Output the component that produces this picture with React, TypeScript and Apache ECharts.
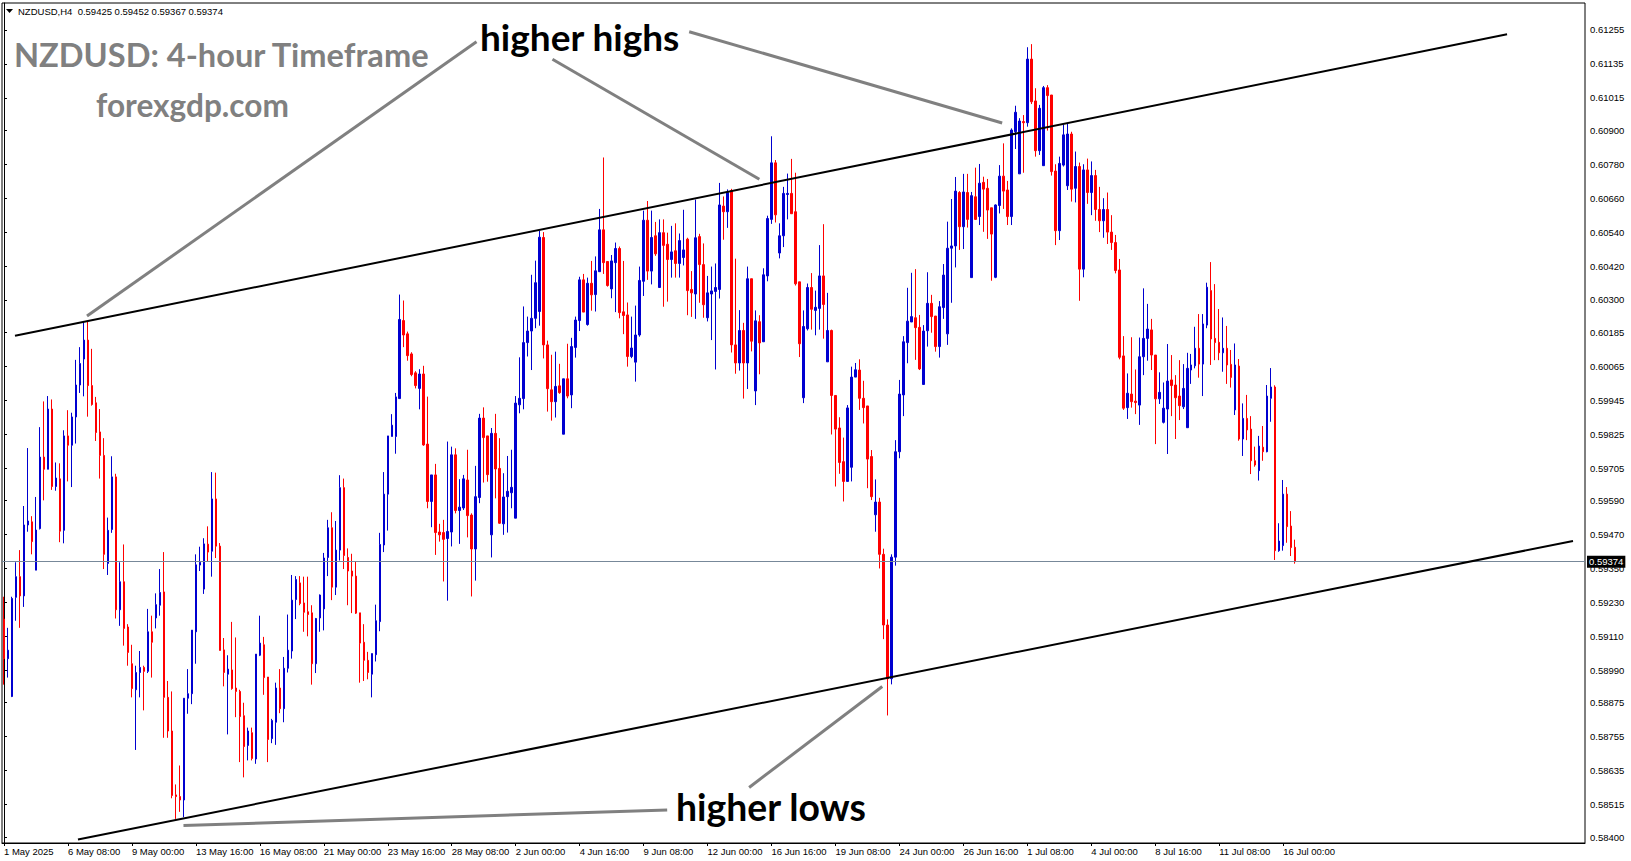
import React, { useEffect, useRef } from "react";
import * as echarts from "echarts";

// ---- DATA (NZDUSD H4 candles) ----
const opens = [
0.59171,0.59031,0.58897,0.59248,0.59321,0.59253,0.59504,0.59515,0.59344,0.59491,
0.59744,0.59701,0.59914,0.59640,0.59667,0.59485,0.59819,0.59786,0.59886,0.59999,
0.60091,0.60158,0.59997,0.59936,0.59833,0.59750,0.59368,0.59488,0.59674,0.59204,
0.59303,0.59143,0.59013,0.58921,0.58982,0.59000,0.58986,0.59126,0.59175,0.59220,
0.59267,0.58894,0.58775,0.58549,0.58543,0.58531,0.58891,0.58907,0.59126,0.59362,
0.59277,0.59436,0.59411,0.59596,0.59429,0.59062,0.58976,0.58991,0.58927,0.58915,
0.58829,0.58724,0.58769,0.58676,0.59043,0.59080,0.58966,0.58748,0.58806,0.58927,
0.58854,0.58997,0.59058,0.59240,0.59299,0.59228,0.59197,0.59193,0.59013,0.59175,
0.59207,0.59389,0.59494,0.59284,0.59415,0.59636,0.59389,0.59341,0.59323,0.59193,
0.59089,0.59025,0.58976,0.59045,0.59162,0.59433,0.59613,0.59817,0.59817,0.59951,
0.60227,0.60180,0.60109,0.60042,0.59987,0.60038,0.59790,0.59587,0.59681,0.59479,
0.59477,0.59456,0.59479,0.59752,0.59555,0.59564,0.59663,0.59539,0.59419,0.59601,
0.59882,0.59819,0.59469,0.59828,0.59704,0.59508,0.59604,0.59618,0.59528,0.59929,
0.59951,0.60149,0.60190,0.60235,0.60259,0.60521,0.60141,0.59982,0.59940,0.59996,
0.59825,0.60021,0.59964,0.60132,0.60227,0.60371,0.60213,0.60359,0.60319,0.60400,
0.60548,0.60436,0.60339,0.60432,0.60482,0.60258,0.60247,0.60100,0.60080,0.60176,
0.60366,0.60582,0.60402,0.60527,0.60344,0.60538,0.60497,0.60443,0.60474,0.60429,
0.60450,0.60515,0.60337,0.60321,0.60524,0.60425,0.60237,0.60321,0.60330,0.60337,
0.60632,0.60612,0.60687,0.60141,0.60077,0.60192,0.60077,0.60375,0.59978,0.60223,
0.60152,0.60385,0.60585,0.60785,0.60466,0.60527,0.60673,0.60677,0.60612,0.60364,
0.59954,0.60198,0.60344,0.60263,0.60270,0.60385,0.60081,0.60192,0.59962,0.59847,
0.59728,0.59658,0.59708,0.60027,0.60052,0.59952,0.59925,0.59746,0.59540,0.59585,
0.59400,0.59150,0.58960,0.59390,0.59763,0.59964,0.60149,0.60222,0.60237,0.60203,
0.60001,0.60191,0.60288,0.60243,0.60135,0.60273,0.60180,0.60483,0.60491,0.60680,
0.60559,0.60680,0.60379,0.60665,0.60595,0.60716,0.60695,0.60626,0.60380,0.60634,
0.60738,0.60689,0.60595,0.60895,0.60746,0.60931,0.60927,0.61152,0.61004,0.60828,
0.60775,0.61051,0.61025,0.60756,0.60545,0.60777,0.60704,0.60887,0.60695,0.60772,
0.60409,0.60760,0.60680,0.60740,0.60620,0.60580,0.60620,0.60540,0.60503,0.60406,
0.60102,0.59919,0.59967,0.59942,0.59928,0.60099,0.60164,0.60194,0.60105,0.59950,
0.59867,0.59914,0.60017,0.59999,0.59960,0.59922,0.59848,0.60052,0.60067,0.60129,
0.60073,0.60211,0.60333,0.60164,0.60150,0.60113,0.60129,0.60072,0.59911,0.60066,
0.59808,0.59881,0.59843,0.59731,0.59696,0.59779,0.59763,0.59952,0.59992,0.59413,
0.59431,0.59613,0.59500,0.59425
];
const highs = [
0.59250,0.59140,0.59250,0.59372,0.59415,0.59571,0.59776,0.59535,0.59603,0.59850,
0.59941,0.59960,0.59948,0.59725,0.59722,0.59839,0.59910,0.59901,0.60088,0.60133,
0.60225,0.60227,0.60127,0.59957,0.59914,0.59811,0.59530,0.59747,0.59685,0.59372,
0.59435,0.59153,0.59080,0.59006,0.59058,0.59006,0.59207,0.59183,0.59262,0.59348,
0.59408,0.58952,0.58915,0.58586,0.58653,0.58891,0.58994,0.59132,0.59400,0.59427,
0.59457,0.59499,0.59691,0.59689,0.59440,0.59104,0.59043,0.59161,0.59106,0.58921,
0.58875,0.58787,0.58787,0.59047,0.59183,0.59108,0.58966,0.58818,0.58946,0.58994,
0.59037,0.59187,0.59327,0.59323,0.59323,0.59321,0.59321,0.59220,0.59175,0.59258,
0.59405,0.59522,0.59549,0.59518,0.59680,0.59668,0.59421,0.59402,0.59374,0.59193,
0.59153,0.59055,0.59049,0.59222,0.59476,0.59691,0.59819,0.59896,0.59971,0.60319,
0.60298,0.60188,0.60115,0.60048,0.60055,0.60067,0.59958,0.59681,0.59720,0.59508,
0.59522,0.59799,0.59781,0.59775,0.59666,0.59681,0.59770,0.59545,0.59713,0.59897,
0.59920,0.59819,0.59847,0.59897,0.59811,0.59687,0.59748,0.59770,0.59960,0.60097,
0.60277,0.60241,0.60389,0.60439,0.60544,0.60540,0.60156,0.60106,0.60117,0.60074,
0.60021,0.60145,0.60166,0.60241,0.60382,0.60392,0.60379,0.60438,0.60454,0.60622,
0.60804,0.60436,0.60459,0.60503,0.60489,0.60438,0.60291,0.60241,0.60280,0.60418,
0.60616,0.60650,0.60616,0.60576,0.60585,0.60585,0.60538,0.60562,0.60571,0.60535,
0.60619,0.60520,0.60402,0.60655,0.60534,0.60500,0.60385,0.60418,0.60429,0.60714,
0.60666,0.60691,0.60693,0.60446,0.60264,0.60219,0.60418,0.60375,0.60263,0.60246,
0.60412,0.60598,0.60879,0.60795,0.60571,0.60700,0.60747,0.60799,0.60750,0.60364,
0.60263,0.60358,0.60395,0.60333,0.60494,0.60568,0.60325,0.60195,0.59962,0.59885,
0.59813,0.59928,0.60064,0.60077,0.60090,0.60014,0.59925,0.59769,0.59665,0.59600,
0.59420,0.59170,0.59400,0.59804,0.60017,0.60172,0.60343,0.60396,0.60409,0.60247,
0.60211,0.60398,0.60318,0.60243,0.60296,0.60427,0.60577,0.60657,0.60735,0.60685,
0.60746,0.60746,0.60682,0.60768,0.60781,0.60736,0.60728,0.60626,0.60638,0.60777,
0.60854,0.60721,0.60907,0.60987,0.60943,0.60954,0.61194,0.61205,0.61049,0.60990,
0.61057,0.61060,0.61025,0.60780,0.60807,0.60921,0.60925,0.60895,0.60825,0.60786,
0.60780,0.60800,0.60790,0.60760,0.60700,0.60660,0.60680,0.60600,0.60530,0.60445,
0.60172,0.60040,0.60168,0.60054,0.60167,0.60341,0.60286,0.60233,0.60105,0.60044,
0.60008,0.60144,0.60105,0.60034,0.60087,0.60073,0.60113,0.60109,0.60205,0.60250,
0.60250,0.60361,0.60434,0.60356,0.60268,0.60238,0.60208,0.60123,0.60146,0.60091,
0.59934,0.59964,0.59889,0.59781,0.59819,0.59854,0.59999,0.60059,0.59998,0.59510,
0.59663,0.59638,0.59553,0.59452
];
const lows = [
0.58939,0.58964,0.58895,0.59165,0.59140,0.59214,0.59480,0.59400,0.59344,0.59488,
0.59591,0.59701,0.59628,0.59625,0.59443,0.59439,0.59658,0.59638,0.59792,0.59971,
0.59959,0.59887,0.59926,0.59801,0.59668,0.59348,0.59327,0.59476,0.59173,0.59147,
0.59077,0.59006,0.58894,0.58708,0.58894,0.58848,0.58980,0.58964,0.59138,0.59183,
0.58751,0.58751,0.58537,0.58464,0.58489,0.58470,0.58836,0.58870,0.59013,0.59341,
0.59260,0.59374,0.59321,0.59387,0.59060,0.58933,0.58763,0.58921,0.58824,0.58665,
0.58611,0.58671,0.58671,0.58659,0.59040,0.58903,0.58665,0.58732,0.58726,0.58838,
0.58806,0.58982,0.59031,0.59171,0.59220,0.59126,0.59110,0.58939,0.58980,0.59126,
0.59131,0.59323,0.59238,0.59256,0.59378,0.59348,0.59220,0.59192,0.59189,0.58946,
0.58952,0.58958,0.58894,0.59021,0.59128,0.59408,0.59484,0.59817,0.59756,0.59951,
0.60133,0.60085,0.60030,0.59987,0.59913,0.59784,0.59563,0.59496,0.59398,0.59445,
0.59304,0.59236,0.59428,0.59545,0.59437,0.59557,0.59460,0.59251,0.59307,0.59581,
0.59654,0.59657,0.59389,0.59598,0.59508,0.59469,0.59477,0.59563,0.59528,0.59899,
0.59913,0.60100,0.60052,0.60200,0.60209,0.60093,0.59905,0.59873,0.59884,0.59968,
0.59825,0.59952,0.59917,0.60096,0.60190,0.60257,0.60209,0.60262,0.60259,0.60400,
0.60392,0.60347,0.60306,0.60257,0.60235,0.60179,0.60064,0.60094,0.60011,0.60170,
0.60314,0.60371,0.60355,0.60456,0.60344,0.60276,0.60294,0.60379,0.60379,0.60379,
0.60422,0.60246,0.60240,0.60233,0.60290,0.60237,0.60224,0.60158,0.60054,0.60305,
0.60513,0.60555,0.60114,0.60039,0.60050,0.59951,0.59985,0.60118,0.59928,0.60037,
0.60152,0.60366,0.60569,0.60574,0.60447,0.60487,0.60585,0.60605,0.60351,0.60098,
0.59935,0.60192,0.60195,0.60175,0.60195,0.60163,0.60081,0.59824,0.59640,0.59685,
0.59587,0.59658,0.59658,0.60027,0.59911,0.59863,0.59634,0.59592,0.59480,0.59350,
0.59100,0.58830,0.58940,0.59360,0.59740,0.59889,0.60076,0.60222,0.60088,0.60052,
0.60001,0.60135,0.60184,0.60117,0.60096,0.60233,0.60141,0.60290,0.60415,0.60477,
0.60480,0.60556,0.60379,0.60583,0.60565,0.60541,0.60516,0.60368,0.60377,0.60606,
0.60622,0.60565,0.60565,0.60834,0.60746,0.60750,0.60913,0.60993,0.60807,0.60813,
0.60775,0.60899,0.60740,0.60494,0.60512,0.60772,0.60689,0.60648,0.60645,0.60297,
0.60380,0.60640,0.60600,0.60580,0.60540,0.60520,0.60498,0.60477,0.60394,0.60090,
0.59911,0.59879,0.59919,0.59896,0.59858,0.60034,0.60085,0.60052,0.59790,0.59932,
0.59863,0.59755,0.59889,0.59808,0.59875,0.59914,0.59848,0.60003,0.60058,0.60025,
0.59960,0.60200,0.60070,0.60087,0.60087,0.60046,0.60003,0.59990,0.59893,0.59802,
0.59748,0.59804,0.59684,0.59710,0.59661,0.59731,0.59761,0.59869,0.59380,0.59409,
0.59413,0.59441,0.59394,0.59367
];
const closes = [
0.59031,0.59061,0.59244,0.59321,0.59253,0.59504,0.59518,0.59445,0.59486,0.59744,
0.59701,0.59914,0.59640,0.59670,0.59482,0.59819,0.59786,0.59886,0.59999,0.60075,
0.60158,0.59997,0.59930,0.59831,0.59750,0.59400,0.59485,0.59674,0.59204,0.59303,
0.59138,0.59053,0.58925,0.58982,0.59000,0.58986,0.59126,0.59089,0.59222,0.59265,
0.58894,0.58775,0.58547,0.58543,0.58531,0.58891,0.58907,0.59132,0.59363,0.59372,
0.59437,0.59408,0.59596,0.59429,0.59060,0.58982,0.58994,0.58925,0.58915,0.58826,
0.58720,0.58775,0.58678,0.59047,0.59086,0.58964,0.58745,0.58812,0.58927,0.58854,
0.58997,0.59061,0.59238,0.59311,0.59226,0.59195,0.59187,0.59013,0.59173,0.59256,
0.59387,0.59494,0.59284,0.59415,0.59636,0.59396,0.59341,0.59323,0.59192,0.59086,
0.59025,0.58982,0.59049,0.59165,0.59435,0.59613,0.59819,0.59857,0.59957,0.60231,
0.60176,0.60103,0.60036,0.59997,0.60038,0.59787,0.59587,0.59681,0.59477,0.59469,
0.59453,0.59481,0.59752,0.59555,0.59567,0.59667,0.59537,0.59419,0.59604,0.59882,
0.59813,0.59682,0.59828,0.59702,0.59510,0.59603,0.59623,0.59637,0.59935,0.59952,
0.60149,0.60190,0.60235,0.60361,0.60522,0.60141,0.59986,0.59940,0.59994,0.59972,
0.60021,0.59960,0.60135,0.60229,0.60371,0.60257,0.60359,0.60318,0.60403,0.60548,
0.60432,0.60351,0.60438,0.60482,0.60255,0.60245,0.60100,0.60130,0.60176,0.60369,
0.60582,0.60402,0.60521,0.60463,0.60538,0.60493,0.60443,0.60470,0.60429,0.60510,
0.60477,0.60333,0.60325,0.60520,0.60425,0.60283,0.60325,0.60332,0.60344,0.60636,
0.60612,0.60680,0.60141,0.60077,0.60192,0.60077,0.60375,0.60154,0.60226,0.60148,
0.60389,0.60588,0.60785,0.60601,0.60527,0.60677,0.60677,0.60605,0.60357,0.60145,
0.60206,0.60344,0.60267,0.60274,0.60385,0.60284,0.60192,0.59962,0.59843,0.59725,
0.59658,0.59918,0.60027,0.60053,0.59952,0.59919,0.59737,0.59604,0.59585,0.59400,
0.59150,0.58960,0.59390,0.59763,0.59967,0.60152,0.60225,0.60241,0.60202,0.60056,
0.60190,0.60288,0.60241,0.60135,0.60276,0.60388,0.60483,0.60491,0.60685,0.60559,
0.60682,0.60585,0.60669,0.60585,0.60713,0.60692,0.60618,0.60533,0.60636,0.60738,
0.60685,0.60595,0.60901,0.60964,0.60933,0.60927,0.61152,0.61001,0.60828,0.60978,
0.61051,0.61023,0.60754,0.60545,0.60783,0.60884,0.60887,0.60692,0.60772,0.60409,
0.60760,0.60680,0.60740,0.60620,0.60580,0.60620,0.60540,0.60503,0.60404,0.60097,
0.59917,0.59970,0.59940,0.59937,0.60099,0.60164,0.60197,0.60105,0.59950,0.59973,
0.59917,0.60013,0.59997,0.59954,0.59926,0.59987,0.60058,0.60070,0.60129,0.60073,
0.60215,0.60345,0.60162,0.60149,0.60113,0.60129,0.60070,0.60026,0.60070,0.59808,
0.59881,0.59840,0.59731,0.59716,0.59783,0.59763,0.59960,0.59992,0.59413,0.59447,
0.59613,0.59498,0.59424,0.59374
];

const xTickLabels = [
  "1 May 2025", "6 May 08:00", "9 May 00:00", "13 May 16:00", "16 May 08:00",
  "21 May 00:00", "23 May 16:00", "28 May 08:00", "2 Jun 00:00", "4 Jun 16:00",
  "9 Jun 08:00", "12 Jun 00:00", "16 Jun 16:00", "19 Jun 08:00", "24 Jun 00:00",
  "26 Jun 16:00", "1 Jul 08:00", "4 Jul 00:00", "8 Jul 16:00", "11 Jul 08:00",
  "16 Jul 00:00"
];
const BARS_PER_LABEL = 16;
const yTickLabels = [
  "0.58400", "0.58515", "0.58635", "0.58755", "0.58875", "0.58990", "0.59110",
  "0.59230", "0.59350", "0.59470", "0.59590", "0.59705", "0.59825", "0.59945",
  "0.60065", "0.60185", "0.60300", "0.60420", "0.60540", "0.60660", "0.60780",
  "0.60900", "0.61015", "0.61135", "0.61255"
];
const Y_MIN = 0.583788;
const Y_MAX = 0.613505;
const TOTAL_SLOTS = 396; // bars plus empty chart shift on the right
const lastPrice = 0.59374;
const headerText = "NZDUSD,H4  0.59425 0.59452 0.59367 0.59374";

// trend lines and pointer lines, as [bar index, price]
const upperTrend = [[2.75, 0.601732], [376.0, 0.612398]];
const lowerTrend = [[18.5, 0.583912], [392.5, 0.594472]];
const pointerLines = [
  [[118.2, 0.612136], [20.77, 0.602432]],
  [[137.2, 0.611513], [188.96, 0.607268]],
  [[171.4, 0.61249], [249.7, 0.60926]],
  [[186.4, 0.585752], [219.7, 0.589325]],
  [[44.9, 0.584407], [165.9, 0.584956]]
];

const BULL = "#0000D0";
const BEAR = "#FF0000";

export default function App() {
  const ref = useRef<HTMLDivElement>(null);
  useEffect(() => {
    const chart = echarts.init(ref.current!, null, { renderer: "svg" });
    const categories = Array.from({ length: TOTAL_SLOTS }, (_, i) => String(i));
    const candleData = opens.map((o, i) => [o, closes[i], lows[i], highs[i]]);
    const isTick = (i: number) => i % BARS_PER_LABEL === 0 && i / BARS_PER_LABEL < xTickLabels.length;
    const yTickValues = yTickLabels.map(Number);
    const axisFont = { fontSize: 9.5, fontFamily: "Liberation Sans", color: "#000" };

    chart.setOption({
      animation: false,
      backgroundColor: "#ffffff",
      grid: {
        left: 2, right: 46, top: 3, bottom: 18,
        show: true, borderColor: "#000", borderWidth: 1, backgroundColor: "#fff",
        containLabel: false, outerBoundsMode: "none"
      },
      xAxis: [
        {
          type: "category", data: categories, boundaryGap: true,
          axisLine: { show: true, lineStyle: { color: "#000", width: 1 } },
          axisTick: { show: true, alignWithLabel: true, interval: (i: number) => isTick(i), length: 3, lineStyle: { color: "#000" } },
          axisLabel: {
            show: true, interval: (i: number) => isTick(i),
            formatter: (_v: string, i: number) => xTickLabels[i / BARS_PER_LABEL] ?? "",
            align: "left", margin: 3, ...axisFont
          },
          splitLine: { show: false }
        },
        { type: "value", min: -0.5, max: TOTAL_SLOTS - 0.5, show: false }
      ],
      yAxis: {
        type: "value", position: "right", min: Y_MIN, max: Y_MAX, scale: true,
        axisLine: { show: true, lineStyle: { color: "#000" } },
        axisTick: { show: true, length: 3, customValues: yTickValues, lineStyle: { color: "#000" } },
        axisLabel: { customValues: yTickValues, formatter: (v: number) => v.toFixed(5), margin: 5, ...axisFont },
        splitLine: { show: false }
      },
      series: [
        {
          type: "candlestick",
          data: candleData,
          barWidth: 2,
          itemStyle: { color: BULL, color0: BEAR, borderColor: BULL, borderColor0: BEAR, borderWidth: 1 },
          markLine: {
            silent: true, symbol: ["none", "none"], precision: 5,
            lineStyle: { color: "#778899", width: 1, type: "solid" },
            label: {
              show: true, position: "end", formatter: lastPrice.toFixed(5),
              backgroundColor: "#000", color: "#fff", padding: [1, 2, 1, 2],
              fontSize: 9.5, fontFamily: "Liberation Sans", distance: 2
            },
            data: [{ yAxis: lastPrice }]
          }
        }
      ]
    });

    const toPx = (p: number[]) => [
      chart.convertToPixel({ xAxisIndex: 1 }, p[0]) as unknown as number,
      chart.convertToPixel({ yAxisIndex: 0 }, p[1]) as unknown as number
    ];
    const lineEl = (seg: number[][], stroke: string, w: number) => {
      const a = toPx(seg[0]);
      const b = toPx(seg[1]);
      return { type: "line", z: 100, silent: true, shape: { x1: a[0], y1: a[1], x2: b[0], y2: b[1] }, style: { stroke, lineWidth: w } };
    };
    const textEl = (text: string, x: number, y: number, font: string, fill: string) => ({
      type: "text", z: 110, silent: true, x, y,
      style: { text, font, fill, textAlign: "left", textVerticalAlign: "middle", align: "left", verticalAlign: "middle" }
    });

    chart.setOption({
      graphic: [
        lineEl(upperTrend, "#000", 2),
        lineEl(lowerTrend, "#000", 2),
        ...pointerLines.map((s) => lineEl(s, "#808080", 3)),
        textEl("NZDUSD: 4-hour Timeframe", 14, 54, "bold 32.6px Lato", "#808080"),
        textEl("forexgdp.com", 96, 105, "bold 31.6px Lato", "#808080"),
        textEl("higher highs", 480, 36, "bold 37px Lato", "#000"),
        textEl("higher lows", 676, 806, "bold 37.3px Lato", "#000"),
        { type: "polygon", z: 110, silent: true, shape: { points: [[6, 9], [13, 9], [9.5, 13]] }, style: { fill: "#000" } },
        textEl(headerText, 18, 11, "9.5px Liberation Sans", "#000")
      ]
    });

    return () => chart.dispose();
  }, []);

  return <div ref={ref} style={{ position: "fixed", left: 0, top: 0, width: 1631, height: 861, background: "#fff" }} />;
}
